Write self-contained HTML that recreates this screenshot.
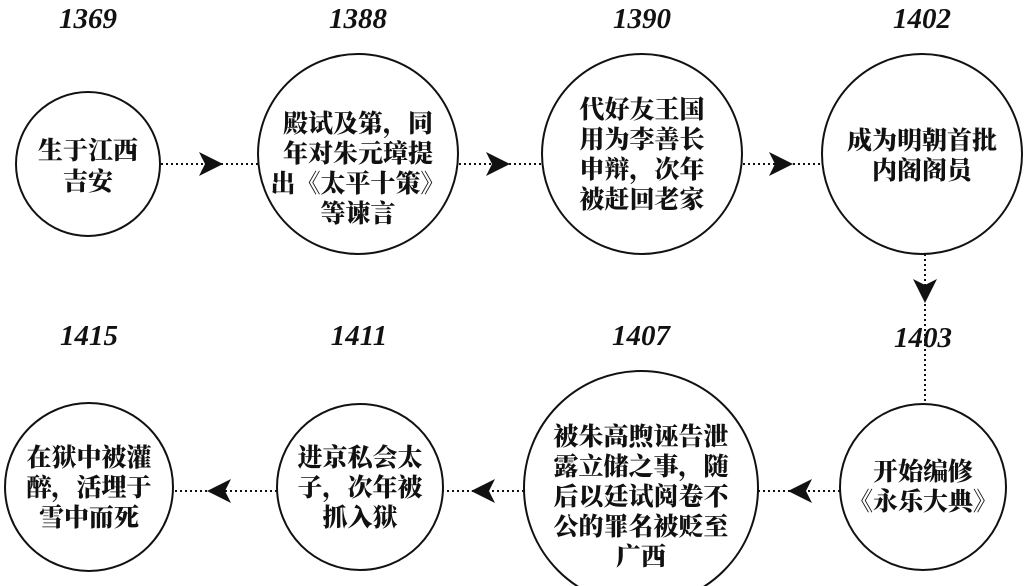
<!DOCTYPE html>
<html><head><meta charset="utf-8">
<style>
html,body{margin:0;padding:0;background:#fff;}
svg{display:block;}
.y{font-family:"Liberation Serif",serif;font-weight:bold;font-style:italic;font-size:29px;fill:#111;}
.t{font-family:"Liberation Serif","Noto Serif CJK SC",serif;font-weight:900;font-size:25px;fill:#111;}
</style></head><body>
<svg width="1030" height="586" viewBox="0 0 1030 586" xmlns="http://www.w3.org/2000/svg">
<g fill="#fff" stroke="#111" stroke-width="2">
<circle cx="88" cy="164" r="72"/>
<circle cx="358" cy="154" r="100"/>
<circle cx="642" cy="154" r="100"/>
<circle cx="922" cy="154" r="100"/>
<circle cx="923" cy="487" r="83"/>
<circle cx="641" cy="488" r="117"/>
<circle cx="360" cy="487" r="83"/>
<circle cx="89" cy="487" r="84"/>
</g>
<g stroke="#111" stroke-width="2" stroke-dasharray="2,3">
<line x1="161" y1="164" x2="258" y2="164"/>
<line x1="459" y1="164" x2="542" y2="164"/>
<line x1="743" y1="164" x2="822" y2="164"/>
<line x1="925" y1="254" x2="925" y2="403"/>
<line x1="840" y1="491" x2="758" y2="491"/>
<line x1="524" y1="491" x2="443" y2="491"/>
<line x1="277" y1="491" x2="173" y2="491"/>
</g>
<g fill="#111">
<polygon points="199,152 223,164 199,176 205,164"/>
<polygon points="486,152 510,164 486,176 492,164"/>
<polygon points="769,152 793,164 769,176 775,164"/>
<polygon points="913,279 925,303 937,279 925,285"/>
<polygon points="812,479 788,491 812,503 806,491"/>
<polygon points="495,479 471,491 495,503 489,491"/>
<polygon points="231,479 207,491 231,503 225,491"/>
</g>
<g class="y" text-anchor="middle">
<text x="88" y="28">1369</text>
<text x="358" y="28">1388</text>
<text x="642" y="28">1390</text>
<text x="922" y="28">1402</text>
<text x="89" y="345">1415</text>
<text x="359" y="345">1411</text>
<text x="641" y="345">1407</text>
<text x="923" y="347">1403</text>
</g>
<g class="t" text-anchor="middle">
<text x="88" y="159">生于江西</text>
<text x="88" y="190">吉安</text>
<text x="358" y="132">殿试及第，同</text>
<text x="358" y="162">年对朱元璋提</text>
<text x="358" y="192">出《太平十策》</text>
<text x="358" y="222">等谏言</text>
<text x="642" y="118">代好友王国</text>
<text x="642" y="148">用为李善长</text>
<text x="642" y="178">申辩，次年</text>
<text x="642" y="208">被赶回老家</text>
<text x="922" y="149">成为明朝首批</text>
<text x="922" y="179">内阁阁员</text>
<text x="923" y="480">开始编修</text>
<text x="923" y="510">《永乐大典》</text>
<text x="641" y="445">被朱高煦诬告泄</text>
<text x="641" y="475">露立储之事，随</text>
<text x="641" y="505">后以廷试阅卷不</text>
<text x="641" y="535">公的罪名被贬至</text>
<text x="641" y="565">广西</text>
<text x="360" y="466">进京私会太</text>
<text x="360" y="496">子，次年被</text>
<text x="360" y="526">抓入狱</text>
<text x="89" y="466">在狱中被灌</text>
<text x="89" y="496">醉，活埋于</text>
<text x="89" y="526">雪中而死</text>
</g>
</svg>
</body></html>
